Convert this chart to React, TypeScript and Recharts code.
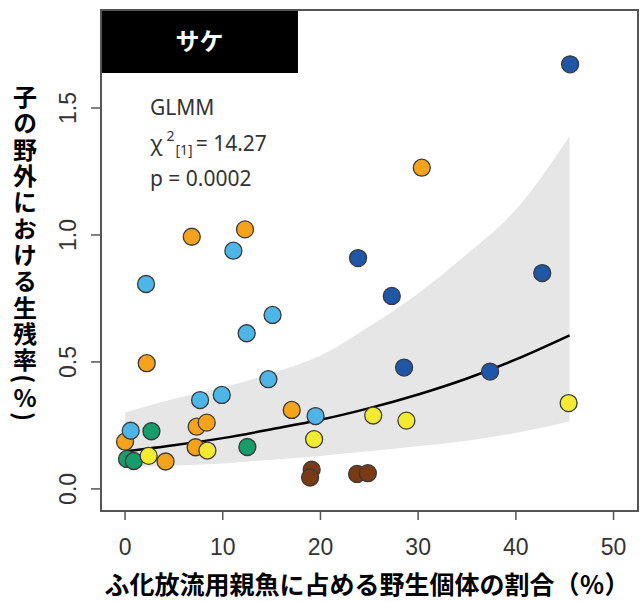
import React from 'react';
import { ComposedChart, Area, Line, Scatter, XAxis, YAxis, ReferenceArea } from 'recharts';

// GLMM fitted curve and its confidence band
const fitX = [0, 5, 10, 15, 20, 25, 30, 35, 40, 45.5];
const fitY = [0.148, 0.172, 0.2, 0.235, 0.272, 0.318, 0.372, 0.435, 0.51, 0.605];
const bandLow = [0.085, 0.092, 0.1, 0.115, 0.13, 0.148, 0.168, 0.19, 0.22, 0.265];
const bandHigh = [0.3, 0.355, 0.4, 0.455, 0.525, 0.64, 0.77, 0.925, 1.1, 1.39];

// observed points, one array per colour group: [wild %, survival %]
const darkBlue = [[45.55, 1.672], [23.85, 0.909], [27.3, 0.76], [42.7, 0.85], [28.56, 0.478], [37.36, 0.462]];
const orange = [[30.37, 1.265], [6.83, 0.993], [12.28, 1.022], [2.22, 0.495], [17.06, 0.311], [7.33, 0.245], [8.36, 0.261], [0, 0.186], [7.22, 0.164], [4.15, 0.108]];
const lightBlue = [[2.15, 0.807], [11.09, 0.938], [15.1, 0.685], [12.45, 0.613], [14.67, 0.432], [9.9, 0.37], [7.68, 0.35], [19.5, 0.287], [0.58, 0.229]];
const green = [[2.7, 0.227], [12.52, 0.165], [0.2, 0.118], [0.9, 0.11]];
const yellow = [[2.42, 0.13], [8.43, 0.151], [19.35, 0.196], [25.4, 0.289], [28.8, 0.269], [45.4, 0.338]];
const brown = [[19.1, 0.076], [18.94, 0.045], [23.75, 0.059], [24.85, 0.062]];

const xTicks = [0, 10, 20, 30, 40, 50];
const yTicks = [0, 0.5, 1.0, 1.5];
const yTickLabels = ['0.0', '0.5', '1.0', '1.5'];

const yTitle = '子の野外における生残率';
const xTitle = 'ふ化放流用親魚に占める野生個体の割合（％）';

const X_DOMAIN = [-2.46, 52.5];
const Y_DOMAIN = [-0.087, 1.886];

const fitData = fitX.map((x, i) => ({ x, fit: fitY[i], band: [bandLow[i], bandHigh[i]] }));
const toPts = (arr: number[][]) => arr.map(([x, y]) => ({ x, y }));

const groups = [
  { name: 'darkBlue', pts: darkBlue, color: '#1f56a8' },
  { name: 'orange', pts: orange, color: '#f5a31c' },
  { name: 'lightBlue', pts: lightBlue, color: '#4db6e6' },
  { name: 'green', pts: green, color: '#179c6b' },
  { name: 'yellow', pts: yellow, color: '#f3ea33' },
  { name: 'brown', pts: brown, color: '#7a3a14' },
];

const tickFont = '"Liberation Sans", Arial, sans-serif';
const jpFont = '"Noto Sans CJK JP", "Noto Sans", sans-serif';

const XTick = (props: any) => {
  const { x, y, payload } = props;
  return (
    <text x={x} y={y + 25} textAnchor="middle" dominantBaseline="central" fontSize={23} fill="#333" fontFamily={tickFont}>
      {payload.value}
    </text>
  );
};

const YTick = (props: any) => {
  const { x, y, payload } = props;
  const i = yTicks.indexOf(payload.value);
  const tx = x - 21;
  return (
    <text x={tx} y={y} transform={`rotate(-90 ${tx} ${y})`} textAnchor="middle" dominantBaseline="central" fontSize={23} fill="#333" fontFamily={tickFont}>
      {i >= 0 ? yTickLabels[i] : payload.value}
    </text>
  );
};

const dot = (color: string) => (props: any) => (
  <circle cx={props.cx} cy={props.cy} r={8.5} fill={color} stroke="#3a3a3a" strokeWidth={1.3} />
);

export default function App() {
  return (
    <div style={{ position: 'absolute', left: 0, top: 0, width: 643, height: 602, background: '#fff' }}>
      <ComposedChart width={643} height={602} data={fitData} margin={{ top: 10, right: 5, left: 41, bottom: 0 }}>
        <XAxis
          dataKey="x"
          type="number"
          domain={X_DOMAIN}
          allowDataOverflow
          ticks={xTicks}
          interval={0}
          height={91}
          tickSize={9}
          axisLine={false}
          tickLine={{ stroke: '#555', strokeWidth: 1.5 }}
          tick={XTick}
        />
        <YAxis
          type="number"
          domain={Y_DOMAIN}
          allowDataOverflow
          ticks={yTicks}
          interval={0}
          width={60}
          tickSize={10}
          axisLine={false}
          tickLine={{ stroke: '#555', strokeWidth: 1.5 }}
          tick={YTick}
        />
        <Area dataKey="band" type="monotone" stroke="none" fill="#e6e6e6" fillOpacity={1} isAnimationActive={false} />
        {groups.map((g) => (
          <Scatter key={g.name} data={toPts(g.pts)} dataKey="y" shape={dot(g.color)} isAnimationActive={false} />
        ))}
        <Line dataKey="fit" type="monotone" stroke="#000" strokeWidth={2.5} dot={false} isAnimationActive={false} />
        <ReferenceArea
          x1={X_DOMAIN[0]}
          x2={17.7}
          y1={1.638}
          y2={Y_DOMAIN[1]}
          fill="#000"
          fillOpacity={1}
          stroke="none"
          label={{ value: 'サケ', position: 'center', fill: '#fff', fontSize: 24, fontWeight: 700, fontFamily: jpFont }}
        />
        <ReferenceArea
          x1={X_DOMAIN[0]}
          x2={X_DOMAIN[1]}
          y1={Y_DOMAIN[0]}
          y2={Y_DOMAIN[1]}
          fill="none"
          stroke="#555"
          strokeWidth={2}
        />
      </ComposedChart>
      <svg width={643} height={602} style={{ position: 'absolute', left: 0, top: 0, pointerEvents: 'none' }}>
        <g fontFamily='"Noto Sans", "Open Sans", sans-serif' fontSize={21} fill="#333">
          <text x={150} y={107} dominantBaseline="central">GLMM</text>
          <text x={150} y={143} dominantBaseline="central">
            χ
            <tspan dx={4} dy={-8} fontSize={14}>2</tspan>
            <tspan dx={1} dy={14} fontSize={14}>[1]</tspan>
            <tspan dx={3} dy={-6}>= 14.27</tspan>
          </text>
          <text x={150} y={178} dominantBaseline="central">p = 0.0002</text>
        </g>
        <text x={367} y={583} textAnchor="middle" dominantBaseline="central" fontSize={25} fontWeight={700} fill="#000" fontFamily={jpFont}>
          {xTitle}
        </text>
        {/* tategaki y title: CJK upright, brackets turned, % kept upright */}
        <text
          x={25}
          y={85}
          fontSize={24}
          fontWeight={700}
          fill="#000"
          fontFamily={jpFont}
          letterSpacing={2.3}
          style={{ writingMode: 'vertical-rl' }}
        >
          {yTitle}(<tspan style={{ textOrientation: 'upright' }}>%</tspan>)
        </text>
      </svg>
    </div>
  );
}
